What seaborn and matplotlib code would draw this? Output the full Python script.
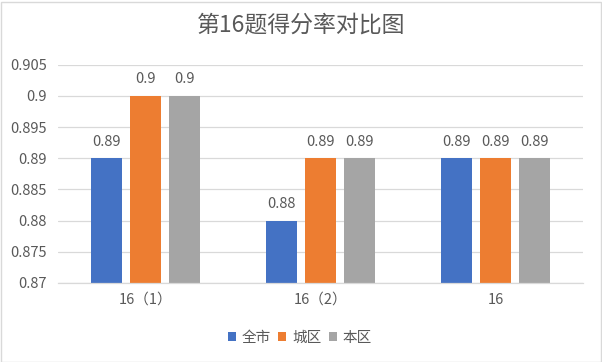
import matplotlib
matplotlib.use("Agg")
import matplotlib.pyplot as plt
import seaborn as sns
import pandas as pd
from matplotlib.patches import Rectangle

categories = ["16（1）", "16（2）", "16"]
series = ["全市", "城区", "本区"]
values_quanshi = [0.89, 0.88, 0.89]
values_chengqu = [0.90, 0.89, 0.89]
values_benqu = [0.90, 0.89, 0.89]
yticks = [0.87, 0.875, 0.88, 0.885, 0.89, 0.895, 0.9, 0.905]
ytick_labels = ["0.87", "0.875", "0.88", "0.885", "0.89", "0.895", "0.9", "0.905"]
colors = ["#4472C4", "#ED7D31", "#A5A5A5"]

rows = []
for s, vals in zip(series, [values_quanshi, values_chengqu, values_benqu]):
    for c, v in zip(categories, vals):
        rows.append({"cat": c, "series": s, "value": v})
df = pd.DataFrame(rows)

sns.set_theme(style="white")
plt.rcParams["font.family"] = ["Noto Sans CJK SC", "DejaVu Sans"]
text_color = "#595959"

fig = plt.figure(figsize=(6.02, 3.62), dpi=100)
ax = fig.add_axes([58 / 602, 1 - 283 / 362, 525 / 602, (283 - 64.7) / 362])

sns.barplot(data=df, x="cat", y="value", hue="series", order=categories,
            hue_order=series, palette=colors, width=0.67, gap=0.2,
            ax=ax, legend=True, saturation=1, linewidth=0)

ax.set_ylim(0.87, 0.905)
ax.set_xlim(-0.5, 2.5)
ax.set_yticks(yticks)
ax.set_yticklabels(ytick_labels)
ax.yaxis.grid(True, color="#D9D9D9", linewidth=0.9)
ax.set_axisbelow(True)
for sp in ["left", "right", "top"]:
    ax.spines[sp].set_visible(False)
ax.spines["bottom"].set_color("#D9D9D9")
ax.spines["bottom"].set_linewidth(0.9)
ax.tick_params(axis="y", length=0, pad=8, labelsize=10.5, labelcolor=text_color)
ax.tick_params(axis="x", length=0, pad=7, labelsize=10.5, labelcolor=text_color)
ax.set_xlabel("")
ax.set_ylabel("")

for cont in ax.containers:
    ax.bar_label(cont, labels=[f"{v:g}" for v in cont.datavalues], padding=7,
                 fontsize=10.5, color=text_color)

leg = ax.get_legend()
handles, labels = ax.get_legend_handles_labels()
leg.remove()
fig.legend(handles, labels, loc="center", bbox_to_anchor=(300 / 602, 1 - 338 / 362),
           ncol=3, frameon=False, fontsize=10.5, handlelength=0.55, handleheight=0.55,
           handletextpad=0.4, columnspacing=0.5, labelcolor=text_color)

fig.text(0.5, 1 - 25 / 362, "第16题得分率对比图", ha="center", va="center",
         fontsize=16.5, color=text_color)

fig.patches.append(Rectangle((0.5 / 602, 0.5 / 362), 600 / 602, 360 / 362,
                             transform=fig.transFigure, fill=False,
                             edgecolor="#D9D9D9", linewidth=1))

fig.savefig("out.png", dpi=100)
